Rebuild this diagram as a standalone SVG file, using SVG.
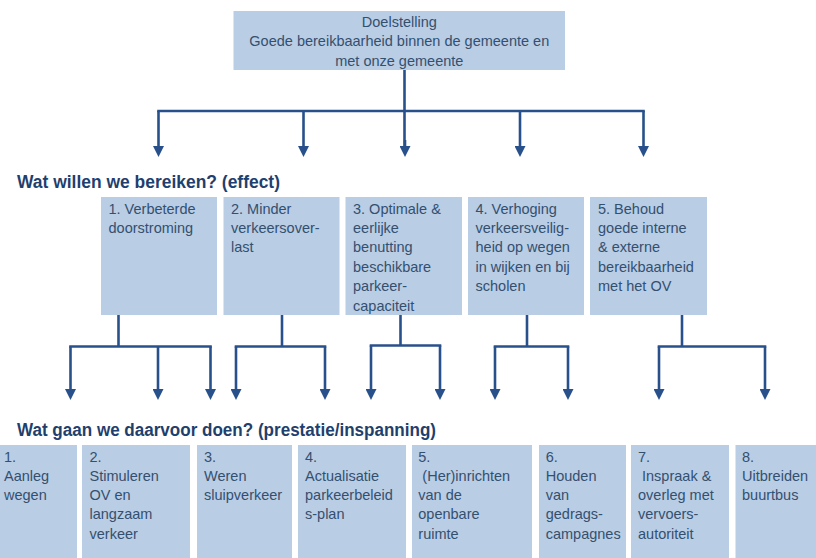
<svg xmlns="http://www.w3.org/2000/svg" width="816" height="558" viewBox="0 0 816 558">
<defs>
<style>
.box{fill:#B9CDE5;}
.t{font-family:"Liberation Sans",Arial,sans-serif;font-size:14.5px;fill:#34506F;}
.tc{text-anchor:middle;}
.h{font-family:"Liberation Sans",Arial,sans-serif;font-size:17.5px;font-weight:bold;fill:#1F3F6E;}
.c{fill:none;stroke:#28508A;stroke-width:2.6;stroke-linejoin:miter;}
.bar{stroke-linecap:square;}
.a{marker-end:url(#arr);}
</style>
<marker id="arr" markerUnits="userSpaceOnUse" markerWidth="11" markerHeight="11" viewBox="0 0 11 11" refX="2" refY="5.5" orient="auto">
<path d="M0,0 L11,5.5 L0,11 z" fill="#28508A"/>
</marker>
</defs>
<rect width="816" height="558" fill="#FFFFFF"/>

<g id="doel">
<rect class="box" x="233.5" y="11" width="331.5" height="59"/>
<text class="t tc" x="399.3" y="27">Doelstelling</text>
<text class="t tc" x="399.3" y="46.3">Goede bereikbaarheid binnen de gemeente en</text>
<text class="t tc" x="399.3" y="65.6">met onze gemeente</text>
</g>

<text id="header-effect" class="h" x="17" y="188" textLength="263" lengthAdjust="spacingAndGlyphs">Wat willen we bereiken? (effect)</text>

<g id="effect1">
<rect class="box" x="101" y="197" width="116" height="118"/>
<text class="t" x="108.5" y="213.5">1. Verbeterde</text>
<text class="t" x="108.5" y="233">doorstroming</text>
</g>
<g id="effect2">
<rect class="box" x="223.5" y="197" width="116" height="118"/>
<text class="t" x="231" y="213.5">2. Minder</text>
<text class="t" x="231" y="233">verkeersover-</text>
<text class="t" x="231" y="252.4">last</text>
</g>
<g id="effect3">
<rect class="box" x="345.5" y="197" width="116.5" height="118"/>
<text class="t" x="353" y="213.5">3. Optimale &amp;</text>
<text class="t" x="353" y="233">eerlijke</text>
<text class="t" x="353" y="252.4">benutting</text>
<text class="t" x="353" y="271.8">beschikbare</text>
<text class="t" x="353" y="291.2">parkeer-</text>
<text class="t" x="353" y="310.6">capaciteit</text>
</g>
<g id="effect4">
<rect class="box" x="468" y="197" width="116" height="118"/>
<text class="t" x="475.5" y="213.5">4. Verhoging</text>
<text class="t" x="475.5" y="233">verkeersveilig-</text>
<text class="t" x="475.5" y="252.4">heid op wegen</text>
<text class="t" x="475.5" y="271.8">in wijken en bij</text>
<text class="t" x="475.5" y="291.2">scholen</text>
</g>
<g id="effect5">
<rect class="box" x="590" y="197" width="117" height="118"/>
<text class="t" x="598" y="213.5">5. Behoud</text>
<text class="t" x="598" y="233">goede interne</text>
<text class="t" x="598" y="252.4">&amp; externe</text>
<text class="t" x="598" y="271.8">bereikbaarheid</text>
<text class="t" x="598" y="291.2">met het OV</text>
</g>

<text id="header-prestatie" class="h" x="17" y="436" textLength="419" lengthAdjust="spacingAndGlyphs">Wat gaan we daarvoor doen? (prestatie/inspanning)</text>

<g id="act1">
<rect class="box" x="-3" y="445" width="80" height="115"/>
<text class="t" x="4" y="461.5">1.</text>
<text class="t" x="4" y="480.8">Aanleg</text>
<text class="t" x="4" y="500.1">wegen</text>
</g>
<g id="act2">
<rect class="box" x="82" y="445" width="108" height="115"/>
<text class="t" x="89.5" y="461.5">2.</text>
<text class="t" x="89.5" y="480.8">Stimuleren</text>
<text class="t" x="89.5" y="500.1">OV en</text>
<text class="t" x="89.5" y="519.4">langzaam</text>
<text class="t" x="89.5" y="538.7">verkeer</text>
</g>
<g id="act3">
<rect class="box" x="197" y="445" width="95" height="115"/>
<text class="t" x="204" y="461.5">3.</text>
<text class="t" x="204" y="480.8">Weren</text>
<text class="t" x="204" y="500.1">sluipverkeer</text>
</g>
<g id="act4">
<rect class="box" x="298" y="445" width="108" height="115"/>
<text class="t" x="305" y="461.5">4.</text>
<text class="t" x="305" y="480.8">Actualisatie</text>
<text class="t" x="305" y="500.1">parkeerbeleid</text>
<text class="t" x="305" y="519.4">s-plan</text>
</g>
<g id="act5">
<rect class="box" x="412" y="445" width="120" height="115"/>
<text class="t" x="418.3" y="461.5">5.</text>
<text class="t" x="418.3" y="480.8" xml:space="preserve"> (Her)inrichten</text>
<text class="t" x="418.3" y="500.1">van de</text>
<text class="t" x="418.3" y="519.4">openbare</text>
<text class="t" x="418.3" y="538.7">ruimte</text>
</g>
<g id="act6">
<rect class="box" x="539" y="445" width="87" height="115"/>
<text class="t" x="545.7" y="461.5">6.</text>
<text class="t" x="545.7" y="480.8">Houden</text>
<text class="t" x="545.7" y="500.1">van</text>
<text class="t" x="545.7" y="519.4">gedrags-</text>
<text class="t" x="545.7" y="538.7">campagnes</text>
</g>
<g id="act7">
<rect class="box" x="631" y="445" width="98" height="115"/>
<text class="t" x="638" y="461.5">7.</text>
<text class="t" x="638" y="480.8" xml:space="preserve"> Inspraak &amp;</text>
<text class="t" x="638" y="500.1">overleg met</text>
<text class="t" x="638" y="519.4">vervoers-</text>
<text class="t" x="638" y="538.7">autoriteit</text>
</g>
<g id="act8">
<rect class="box" x="735.5" y="445" width="84" height="115"/>
<text class="t" x="742" y="461.5">8.</text>
<text class="t" x="742" y="480.8">Uitbreiden</text>
<text class="t" x="742" y="500.1">buurtbus</text>
</g>

<g id="connectors">
<path class="c" d="M404.5,70 V148"/>
<path class="c bar" d="M158.5,111 H643.5"/>
<path class="c a" d="M158.5,111 V148"/>
<path class="c a" d="M643.5,111 V148"/>
<path class="c a" d="M303.5,111 V148"/>
<path class="c a" d="M405,140 V148"/>
<path class="c a" d="M520,111 V148"/>

<path class="c" d="M118.5,315 V346.5"/>
<path class="c bar" d="M70.5,346.5 H210.5"/>
<path class="c a" d="M70.5,346.5 V391"/>
<path class="c a" d="M158,346.5 V391"/>
<path class="c a" d="M210.5,346.5 V391"/>

<path class="c" d="M282,315 V346.5"/>
<path class="c bar" d="M236,346.5 H325"/>
<path class="c a" d="M236,346.5 V391"/>
<path class="c a" d="M325,346.5 V391"/>

<path class="c" d="M400.5,315 V345.5"/>
<path class="c bar" d="M371,345.5 H440"/>
<path class="c a" d="M371,345.5 V391"/>
<path class="c a" d="M440,345.5 V391"/>

<path class="c" d="M527,315 V346.5"/>
<path class="c bar" d="M495,346.5 H568"/>
<path class="c a" d="M495,346.5 V391"/>
<path class="c a" d="M568,346.5 V391"/>

<path class="c" d="M682,315 V346.5"/>
<path class="c bar" d="M659,346.5 H765"/>
<path class="c a" d="M659,346.5 V391"/>
<path class="c a" d="M765,346.5 V391"/>
</g>
</svg>
